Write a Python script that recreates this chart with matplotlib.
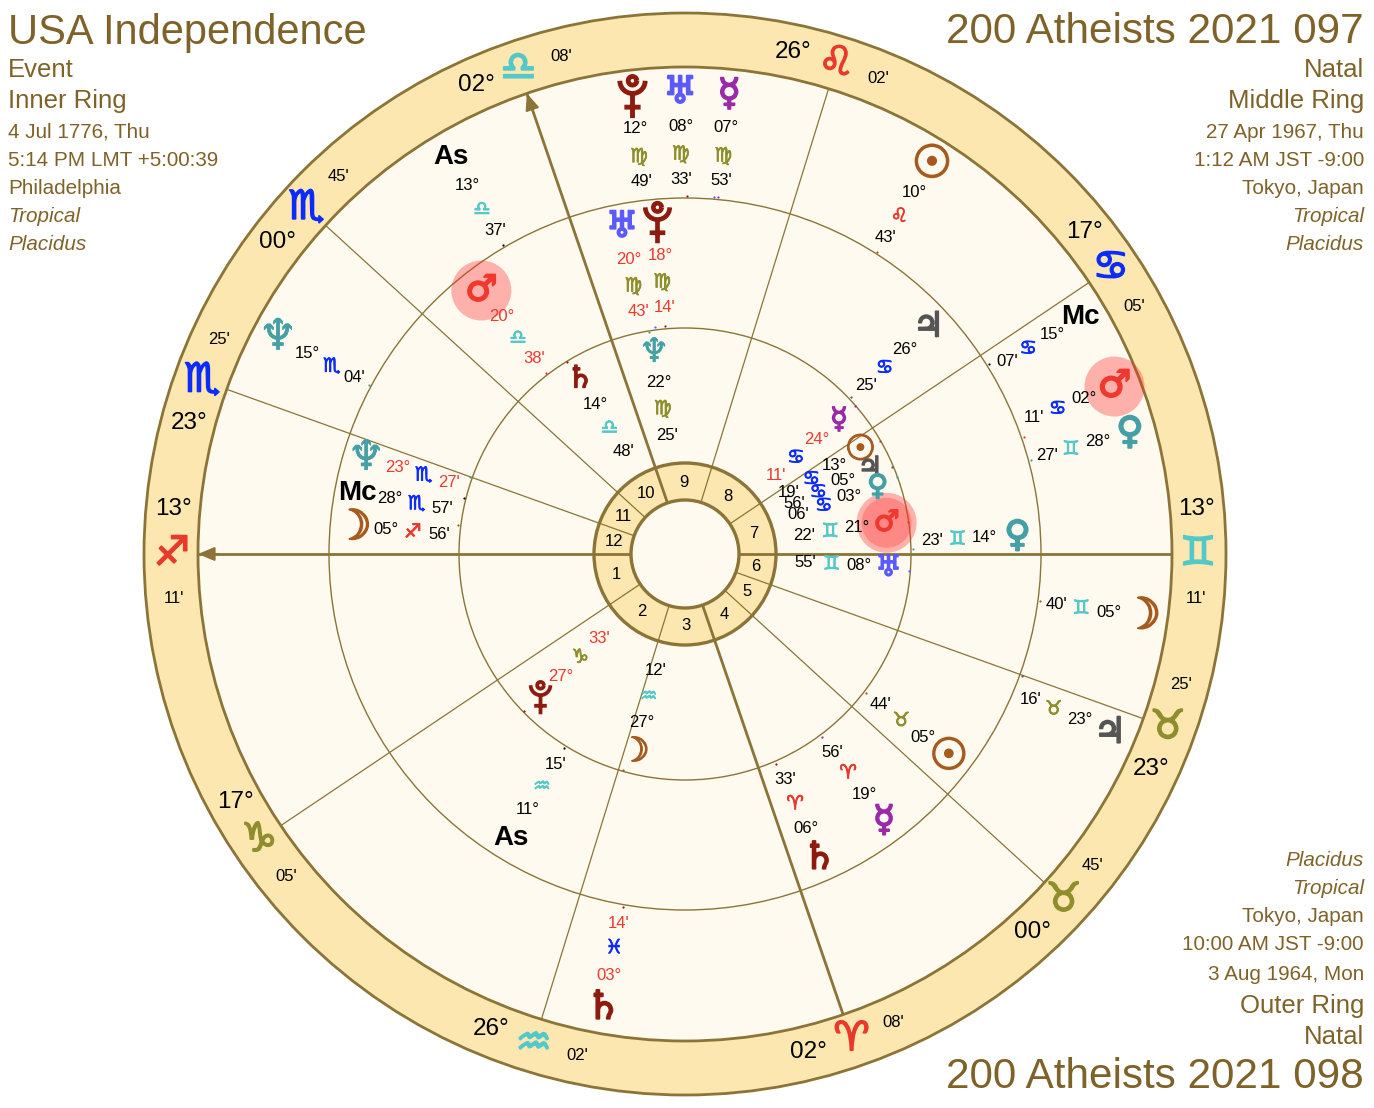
"""Tri-wheel astrology chart: USA Independence with two natal charts."""
import numpy as np
import matplotlib
matplotlib.use("Agg")
import matplotlib.pyplot as plt
import matplotlib.patheffects as pe
from matplotlib.patches import Circle
from matplotlib.path import Path

plt.rcParams["font.family"] = ["Liberation Sans", "DejaVu Sans"]

SIGNS = ["♈", "♉", "♊", "♋", "♌", "♍", "♎", "♏", "♐", "♑", "♒", "♓"]
SIGN_COL = ["#E8392C", "#8E8E2C", "#52C8C8", "#0B2BFF"] * 3

PLANET_GLYPH = {"Sun": "☉", "Moon": "☽", "Mercury": "☿", "Venus": "♀", "Mars": "♂",
                "Jupiter": "♃", "Saturn": "♄", "Uranus": "♅", "Neptune": "♆",
                "As": "As", "Mc": "Mc"}
PLANET_COL = {"Sun": "#A65A1E", "Moon": "#A65A1E", "Mercury": "#9A2BA8", "Venus": "#45A0A6",
              "Mars": "#F0382E", "Jupiter": "#555555", "Saturn": "#8E1B10", "Uranus": "#5A5AFF",
              "Neptune": "#45A0A6", "Pluto": "#8E1B10", "As": "black", "Mc": "black"}
GLYPH_SCALE = {"Sun": 1.2, "Moon": 1.15, "Jupiter": 0.95, "Saturn": 1.05, "Neptune": 1.15}

# house cusps, sign index / degree / minute, clockwise from the ascendant
CUSP_SIGN = [8, 7, 7, 6, 4, 3, 2, 1, 1, 0, 10, 9]
CUSP_DEG = [13, 23, 0, 2, 26, 17, 13, 23, 0, 2, 26, 17]
CUSP_MIN = [11, 25, 45, 8, 2, 5, 11, 25, 45, 8, 2, 5]

# outer ring (3 Aug 1964)
OUTER_NAME = ["Pluto", "Uranus", "Mercury", "Sun", "Mc", "Mars", "Venus", "Moon", "Jupiter", "Saturn", "As", "Neptune"]
OUTER_SIGN = [5, 5, 5, 4, 3, 3, 2, 2, 1, 11, 6, 7]
OUTER_DEG = [12, 8, 7, 10, 15, 2, 28, 5, 23, 3, 13, 15]
OUTER_MIN = [49, 33, 53, 43, 7, 11, 27, 40, 16, 14, 37, 4]
OUTER_RETRO = [0, 0, 0, 0, 0, 0, 0, 0, 0, 1, 0, 0]
OUTER_SPREAD = [96.6, 90.6, 84.5, 57.6, 30.9, 21.3, 15.2, -7.8, -22.8, 259.8, 120.5, 152.0]

# middle ring (27 Apr 1967)
MIDDLE_NAME = ["Uranus", "Pluto", "Jupiter", "Mars", "Venus", "Sun", "Mercury", "Saturn", "As", "Mc", "Neptune", "Moon"]
MIDDLE_SIGN = [5, 5, 3, 6, 2, 1, 0, 0, 10, 7, 7, 8]
MIDDLE_DEG = [20, 18, 26, 20, 14, 5, 19, 6, 11, 28, 23, 5]
MIDDLE_MIN = [43, 14, 25, 38, 23, 44, 56, 33, 15, 57, 27, 56]
MIDDLE_RETRO = [1, 1, 0, 1, 0, 0, 0, 0, 0, 0, 1, 0]
MIDDLE_SPREAD = [100.9, 94.8, 43.0, 127.7, 3.1, -37.6, -53.3, -66.2, 238.4, 169.4, 163.2, 175.4]

# inner ring (4 Jul 1776)
INNER_NAME = ["Neptune", "Saturn", "Pluto", "Moon", "Mercury", "Sun", "Jupiter", "Venus", "Mars", "Uranus"]
INNER_SIGN = [5, 6, 9, 10, 3, 3, 3, 3, 2, 2]
INNER_DEG = [22, 14, 27, 27, 24, 13, 5, 3, 21, 8]
INNER_MIN = [25, 48, 33, 12, 11, 19, 56, 6, 22, 55]
INNER_RETRO = [0, 0, 1, 0, 1, 0, 0, 0, 0, 0]
INNER_SPREAD = [98.7, 120.9, 224.6, 255.7, 41.0, 30.7, 24.9, 19.2, 8.8, -3.9]

LEFT_LINES = ["Event", "Inner Ring", "4 Jul 1776, Thu", "5:14 PM LMT +5:00:39", "Philadelphia", "Tropical", "Placidus"]
RIGHT_LINES = ["Natal", "Middle Ring", "27 Apr 1967, Thu", "1:12 AM JST -9:00", "Tokyo, Japan", "Tropical", "Placidus"]
BOTTOM_LINES = ["Placidus", "Tropical", "Tokyo, Japan", "10:00 AM JST -9:00", "3 Aug 1964, Mon", "Outer Ring", "Natal"]

CX, CY = 685, 554
R_OUT, R_ZOD, R_MID, R_INN, R_HOUSE, R_HUB = 541, 487, 356, 226, 91, 54
LINE = "#8B7436"
RING = "#FCE7B1"
PAPER = "#FEFAEF"
TXT = "#7F6228"

fig = plt.figure(figsize=(13.74, 11.08), dpi=100)
ax = fig.add_axes([0, 0, 1, 1])
ax.set_xlim(0, 1374)
ax.set_ylim(1108, 0)
ax.axis("off")


def lon(sign, deg, minute):
    return sign * 30 + deg + minute / 60


ASC = lon(CUSP_SIGN[0], CUSP_DEG[0], CUSP_MIN[0])


def screen_angle(longitude):
    return (180 + longitude - ASC) % 360


def xy(r, ang):
    a = np.radians(ang)
    return CX + r * np.cos(a), CY - r * np.sin(a)


def pluto_marker():
    t = np.linspace(np.pi, 2 * np.pi, 24)
    cup = Path(np.c_[0.5 * np.cos(t), 0.62 + 0.5 * np.sin(t)])
    stem = Path([(0, 0.12), (0, -0.85)])
    bar = Path([(-0.32, -0.42), (0.32, -0.42)])
    u = np.linspace(0, 2 * np.pi, 24)
    dot = Path(np.c_[0.17 * np.cos(u), 0.62 + 0.17 * np.sin(u)])
    return Path.make_compound_path(cup, stem, bar, dot)


def glyph(x, y, s, size, color, stroke):
    ax.text(x, y, s, color=color, fontsize=size, ha="center", va="center", family="DejaVu Sans",
            zorder=6, path_effects=[pe.withStroke(linewidth=stroke, foreground=color)])


for r, fc, ec, lw in [(R_OUT, RING, LINE, 2.0), (R_ZOD, PAPER, LINE, 2.0),
                      (R_MID, "none", LINE, 1.0), (R_INN, "none", LINE, 1.0),
                      (R_HOUSE, RING, LINE, 2.4), (R_HUB, PAPER, LINE, 2.4)]:
    ax.add_patch(Circle((CX, CY), r, fc=fc, ec=ec, lw=lw, zorder=2 if r > 100 else 3))

# cusps, zodiac ring labels, house numbers
cusp_ang = [screen_angle(lon(s, d, m)) for s, d, m in zip(CUSP_SIGN, CUSP_DEG, CUSP_MIN)]
for i, ang in enumerate(cusp_ang):
    thick = i % 3 == 0
    x0, y0 = xy(R_HUB, ang)
    x1, y1 = xy(R_ZOD, ang)
    ax.plot([x0, x1], [y0, y1], color=LINE, lw=2.0 if thick else 0.9, zorder=4, solid_capstyle="butt")
    sign = CUSP_SIGN[i]
    gx, gy = xy(513, ang)
    glyph(gx, gy, SIGNS[sign], 29, SIGN_COL[sign], 1.2)
    off = 5 if ang < 179.9 else -5
    dx, dy = xy(513, ang + off)
    ax.text(dx, dy, f"{CUSP_DEG[i]:02d}°", fontsize=17.5, ha="center", va="center", zorder=6)
    mx, my = xy(513, ang - off)
    ax.text(mx, my, f"{CUSP_MIN[i]:02d}'", fontsize=12, ha="center", va="center", zorder=6)

for k, ang in enumerate(cusp_ang):
    # numbered counter-clockwise from the ascendant
    idx = (12 - k) % 12
    nxt = cusp_ang[(k - 1) % 12]
    span = (nxt - ang) % 360
    nx, ny = xy(72, ang + span / 2)
    ax.text(nx, ny, str(idx + 1), fontsize=12, ha="center", va="center", zorder=6)

# arrow heads on ascendant and midheaven
for ang in (cusp_ang[0], cusp_ang[3]):
    tip = xy(R_ZOD, ang)
    base = xy(R_ZOD - 21, ang)
    ax.annotate("", xy=tip, xytext=base, zorder=5,
                arrowprops=dict(arrowstyle="-|>,head_width=0.42,head_length=1.0", color=LINE,
                                lw=1.5, shrinkA=0, shrinkB=0))


def draw_ring(names, signs, degs, mins, retro, spread, radii, tick_r, glyph_size, highlight):
    r_g, r_d, r_s, r_m = radii
    for n, s, d, m, rt, ang in zip(names, signs, degs, mins, retro, spread):
        col = "#F0382E" if rt else "black"
        gx, gy = xy(r_g, ang)
        if n == "Mars":
            for rad, alpha in highlight:
                ax.add_patch(Circle((gx, gy), rad, fc="#FF2A2A", ec="none", alpha=alpha, zorder=4))
        if n == "Pluto":
            ax.plot([gx], [gy], marker=pluto_marker(), ms=glyph_size * 1.15, mfc="none", mec=PLANET_COL[n],
                    mew=glyph_size * 0.13, ls="none", zorder=6)
        elif n in ("As", "Mc"):
            ax.text(gx, gy, PLANET_GLYPH[n], fontsize=20, fontweight="bold",
                    color="black", ha="center", va="center", zorder=6, family="Liberation Sans")
        else:
            stroke = 0.4 if n == "Neptune" else glyph_size * 0.05
            glyph(gx, gy, PLANET_GLYPH[n], glyph_size * GLYPH_SCALE.get(n, 1), PLANET_COL[n], stroke)
        x, y = xy(r_d, ang)
        ax.text(x, y, f"{d:02d}°", fontsize=12, color=col, ha="center", va="center", zorder=6)
        x, y = xy(r_s, ang)
        glyph(x, y, SIGNS[s], 14, SIGN_COL[s], 0.6)
        x, y = xy(r_m, ang)
        ax.text(x, y, f"{m:02d}'", fontsize=12, color=col, ha="center", va="center", zorder=6)
        tx, ty = xy(tick_r, screen_angle(lon(s, d, m)))
        ax.plot([tx], [ty], marker="o", ms=1.6, color=PLANET_COL[n], mew=0, zorder=5)


draw_ring(OUTER_NAME, OUTER_SIGN, OUTER_DEG, OUTER_MIN, OUTER_RETRO, OUTER_SPREAD,
          (461, 428, 400, 375), 358.5, 27, [(30, 0.35)])
draw_ring(MIDDLE_NAME, MIDDLE_SIGN, MIDDLE_DEG, MIDDLE_MIN, MIDDLE_RETRO, MIDDLE_SPREAD,
          (333, 300, 273, 247), 228.5, 26, [(30, 0.35)])
draw_ring(INNER_NAME, INNER_SIGN, INNER_DEG, INNER_MIN, INNER_RETRO, INNER_SPREAD,
          (204, 174, 147, 120), 225, 21, [(30, 0.35), (25, 0.3)])


def block(lines, ys, x, ha, sizes, styles):
    for s, y, fs, st in zip(lines, ys, sizes, styles):
        ax.text(x, y, s, color=TXT, fontsize=fs, style=st, ha=ha, va="center")


TOP_Y = [70, 101, 132, 160, 188, 216, 244]
BOT_Y = [860, 888, 916, 944, 975, 1006, 1037]
TOP_SZ = [18.5, 18.5, 14.9, 14.9, 14.9, 14.9, 14.9]
TOP_ST = ["normal"] * 5 + ["italic"] * 2

ax.text(8, 33, "USA Independence", color=TXT, fontsize=30, ha="left", va="center")
ax.text(1364, 32, "200 Atheists 2021 097", color=TXT, fontsize=30.4, ha="right", va="center")
ax.text(1364, 1077, "200 Atheists 2021 098", color=TXT, fontsize=30.4, ha="right", va="center")
block(LEFT_LINES, TOP_Y, 8, "left", TOP_SZ, TOP_ST)
block(RIGHT_LINES, TOP_Y, 1364, "right", TOP_SZ, TOP_ST)
block(BOTTOM_LINES, BOT_Y, 1364, "right", TOP_SZ[::-1], TOP_ST[::-1])

fig.savefig("out.png", dpi=100, facecolor="white")
